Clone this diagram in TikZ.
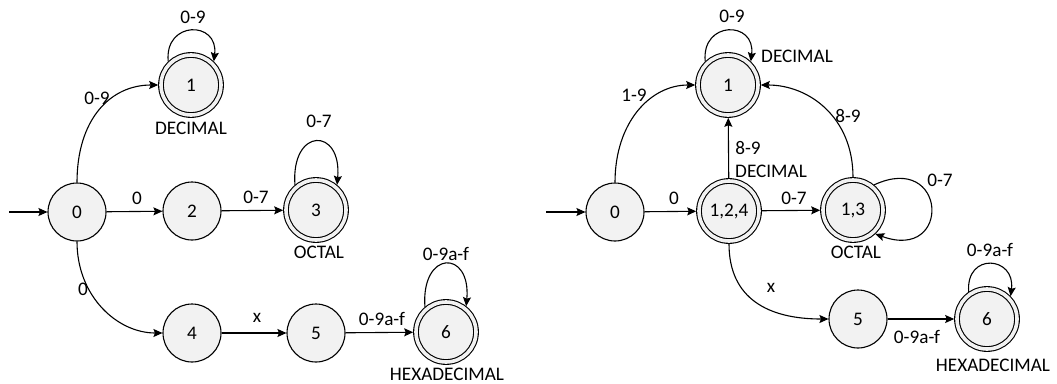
\documentclass[tikz,border=0pt]{standalone}
\usepackage{fontspec}
\setmainfont{Carlito}
\usetikzlibrary{arrows.meta}
\definecolor{stfill}{HTML}{F2F2F2}
\tikzset{
  state/.style={circle, draw=black, line width=1.1pt, fill=stfill, minimum size=58pt, inner sep=0pt},
  accept/.style={circle, draw=black, line width=1.1pt, fill=stfill, double=stfill, double distance=3.6pt, minimum size=60pt, inner sep=0pt, outer sep=2.8pt},
  edge/.style={draw=black, line width=1.1pt, -{Stealth[length=9pt,width=8pt,inset=1.5pt]}},
  lbl/.style={inner sep=0pt, font=\fontsize{19.2}{22}\selectfont},
}
\begin{document}
\begin{tikzpicture}[x=1pt,y=-1pt, font=\fontsize{19.2}{22}\selectfont]
\useasboundingbox (0,0) rectangle (1057,383);

% ---------- left automaton ----------
\node[state]  (a0) at (77,212) {0};
\node[accept] (a1) at (191,85) {1};
\node[state]  (a2) at (192,211) {2};
\node[accept] (a3) at (316,210) {3};
\node[state]  (a4) at (192,333) {4};
\node[state]  (a5) at (316,333) {5};
\node[accept] (a6) at (446,332) {6};
\coordinate (as) at (9,212);

\node[lbl] (a1t) at (191,128) {DECIMAL};
\node[lbl] (a3t) at (319,252) {OCTAL};
\node[lbl] (a6t) at (447,374) {HEXADECIMAL};

\draw[edge] (as) -- (a0);
\draw[edge] (a0.north) .. controls +(0,-63) and +(-48,0) .. (a1.west) node[lbl] at (97,98) {0-9};
\draw[edge] (a1.134) .. controls +(-4,-41) and +(5,-41) .. (a1.46) node[lbl] at (193,17) {0-9};
\draw[edge] (a0) -- (a2) node[lbl] at (137,198) {0};
\draw[edge] (a2) -- (a3) node[lbl] at (256,197) {0-7};
\draw[edge] (a3.130) .. controls +(-4,-58) and +(5,-58) .. (a3.50) node[lbl] at (319,121) {0-7};
\draw[edge] (a0.south) .. controls +(0,55) and +(-45,0) .. (a4.west) node[lbl] at (83,289) {0};
\draw[edge] (a4) -- (a5) node[lbl] at (257,318) {x};
\draw[edge] (a5) -- (a6) node[lbl] at (382,319) {0-9a-f};
\draw[edge] (a6.130) .. controls +(-4,-57) and +(5,-57) .. (a6.52) node[lbl] at (446,254) {0-9a-f};

% ---------- right automaton ----------
\node[state]  (b0)  at (615,212) {0};
\node[accept] (b1)  at (728,85) {1};
\node[accept] (b124) at (729,211) {1,2,4};
\node[accept] (b13) at (853,210) {1,3};
\node[state]  (b5)  at (858,319) {5};
\node[accept] (b6)  at (987,319) {6};
\coordinate (bs) at (546,212);

\node[lbl] (b1t)   at (797,56) {DECIMAL};
\node[lbl] (b124t) at (771,171) {DECIMAL};
\node[lbl] (b13t)  at (856,252) {OCTAL};
\node[lbl] (b6t)   at (993,365) {HEXADECIMAL};

\draw[edge] (bs) -- (b0);
\draw[edge] (b0.north) .. controls +(0,-60) and +(-45,0) .. (b1.west) node[lbl] at (634,95) {1-9};
\draw[edge] (b1.134) .. controls +(-4,-41) and +(5,-41) .. (b1.46) node[lbl] at (732,16) {0-9};
\draw[edge] (b0) -- (b124) node[lbl] at (674,198) {0};
\draw[edge] (b124) -- (b1) node[lbl] at (748,148) {8-9};
\draw[edge] (b124) -- (b13) node[lbl] at (794,198) {0-7};
\draw[edge] (b13.north) .. controls +(0,-60) and +(48,0) .. (b1.east) node[lbl] at (848,116) {8-9};
\draw[edge] (b13.50) .. controls +(73,-34) and +(77,28) .. (b13.-47) node[lbl] at (940,180) {0-7};
\draw[edge] (b124.south) .. controls +(0,55) and +(-60,0) .. (b5.west) node[lbl] at (771,288) {x};
\draw[edge] (b5) -- (b6) node[lbl] at (917,337) {0-9a-f};
\draw[edge] (b6.124) .. controls +(-3,-40) and +(5,-40) .. (b6.44) node[lbl] at (990,250) {0-9a-f};
\end{tikzpicture}
\end{document}
